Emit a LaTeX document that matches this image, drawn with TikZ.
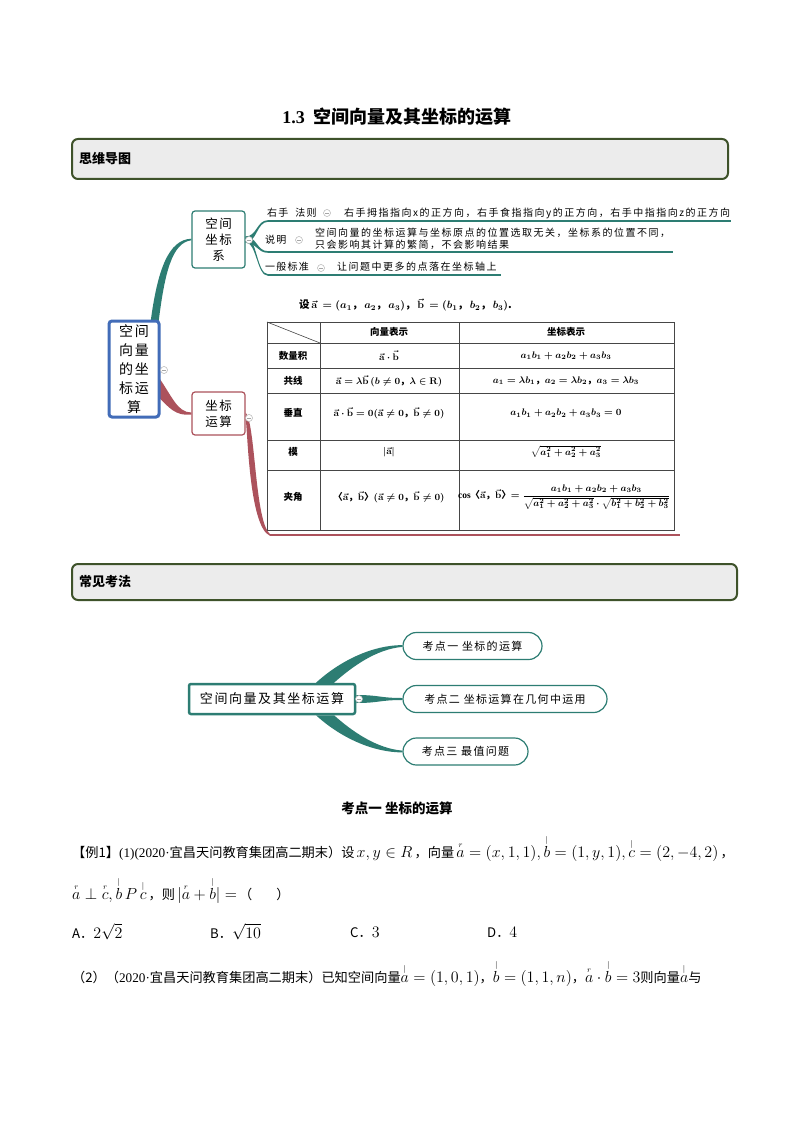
\RequirePackage{fix-cm}
\documentclass[tikz,border=0pt]{standalone}
\usepackage{amsmath,amssymb}
\usepackage{fontspec}
\setmainfont{Liberation Serif}
\newfontfamily\cjk{Noto Sans CJK SC}
\newfontfamily\cjkls{Noto Sans CJK SC}[LetterSpace=12]
\newfontfamily\cjkld{Noto Sans CJK SC}[LetterSpace=15]
\usetikzlibrary{calc}
\pgfdeclarelayer{paper}
\pgfdeclarelayer{bg}
\pgfsetlayers{paper,bg,main}
\definecolor{mmteal}{RGB}{45,125,115}
\definecolor{mmred}{RGB}{172,82,92}
\definecolor{mmblue}{RGB}{66,108,184}
\definecolor{hdborder}{RGB}{62,82,42}
\definecolor{hdfill}{RGB}{236,236,236}
\definecolor{tblline}{RGB}{70,70,70}
\newcommand\setfs[2]{\fontsize{#1}{#2}\selectfont}
\newcommand\mth[1]{{\fontsize{16}{16}\selectfont$#1$}}
\newcommand\taper[5]{%
  \fill[#1] let \p1=(#2), \p2=(#3), \n1={0.5*(\x2-\x1)} in
   (\x1,\y1+#4) .. controls (\x1+\n1,\y1+#4) and (\x2-\n1,\y2+#5) .. (\x2,\y2+#5)
   -- (\x2,\y2-#5) .. controls (\x2-\n1,\y2-#5) and (\x1+\n1,\y1-#4) .. (\x1,\y1-#4) -- cycle;}
\newcommand\accr[1]{\overset{\scriptscriptstyle r}{#1}}
\newcommand\acct[1]{\overset{\scriptscriptstyle |}{#1}}
\newcommand\va{\vec{\mathbf a}}
\newcommand\vb{\vec{\mathbf b}}
\begin{document}
\begin{tikzpicture}[x=1pt,y=-1pt,
  hdbox/.style={draw=hdborder, line width=2pt, fill=hdfill, rounded corners=6pt, anchor=north west, inner sep=0pt},
  hdtext/.style={anchor=west, inner sep=0pt, font=\cjk\bfseries\setfs{13}{15}},
  rootA/.style={draw=mmblue, line width=3pt, rounded corners=3pt, fill=white, minimum width=50pt, minimum height=96pt, align=center, inner sep=0pt, font=\cjkls\setfs{14}{19}},
  tealbox/.style={draw=mmteal, line width=1.2pt, rounded corners=3pt, fill=white, minimum width=53pt, minimum height=57pt, align=center, inner sep=0pt, font=\cjkls\setfs{12.5}{16}},
  redbox/.style={draw=mmred, line width=1.2pt, rounded corners=3pt, fill=white, minimum width=53pt, minimum height=43pt, align=center, inner sep=0pt, font=\cjkls\setfs{12.5}{16}},
  lbl/.style={anchor=west, inner sep=0pt, font=\cjkls\setfs{10}{12}},
  desc/.style={anchor=west, inner sep=0pt, align=left, font=\cjkld\setfs{10}{12}},
  colmark/.style={circle, draw=gray!60, fill=white, inner sep=0pt, minimum size=7pt, line width=0.5pt,
     path picture={\draw[gray!70,line width=0.6pt] ([xshift=-2pt]path picture bounding box.center) -- ([xshift=2pt]path picture bounding box.center);}},
  tbl/.style={draw=tblline, line width=0.8pt},
  tbt/.style={inner sep=0pt, font=\cjk\bfseries\boldmath\setfs{9.5}{11}},
  root2box/.style={draw=mmteal, line width=2.5pt, rounded corners=2pt, fill=white, minimum width=166pt, minimum height=30pt, inner sep=0pt, font=\cjkls\setfs{13}{15}},
  pill/.style={draw=mmteal, line width=1.2pt, rounded corners=13.5pt, fill=white, minimum height=27pt, inner sep=0pt, font=\cjkls\setfs{11}{13}},
  body/.style={anchor=west, inner sep=0pt, font=\setfs{13.2}{16}}
]
\useasboundingbox (0,0) rectangle (794,1123);
\begin{pgfonlayer}{paper}
  \fill[white] (0,0) rectangle (794,1123);
\end{pgfonlayer}

% title
\node[font=\setfs{18}{20}\bfseries] (title) at (397,117) {1.3\ \ {\cjk\bfseries 空间向量及其坐标的运算}};

% header 1
\node[hdbox, minimum width=656pt, minimum height=40pt] (hd1) at (71,138) {};
\node[hdtext] (hd1t) at ($(hd1.west)+(8,0)$) {思维导图};

% ---------- mind map 1 ----------
\node[rootA] (root1) at (134,369) {空间\\向量\\的坐\\标运\\算};
\node[tealbox] (n1) at (218.5,239.5) {空间\\坐标\\系};
\node[redbox] (n2) at (218.5,413.5) {坐标\\运算};

\node[lbl] (L1) at (267,213) {右手\hspace{7pt}法则};
\node[lbl] (L2) at (265,240) {说明};
\node[lbl] (L3) at (265,267) {一般标准};

\node[desc] (D1) at (344,213) {右手拇指指向x的正方向，右手食指指向y的正方向，右手中指指向z的正方向};
\node[desc] (D2) at (315,239) {空间向量的坐标运算与坐标原点的位置选取无关，坐标系的位置不同，\\只会影响其计算的繁简，不会影响结果};
\node[desc] (D3) at (337,267) {让问题中更多的点落在坐标轴上};

\coordinate (r1a) at (268,221); \coordinate (r1b) at (731,221);
\coordinate (r2a) at (268,252); \coordinate (r2b) at (673,252);
\coordinate (r3a) at (268,275); \coordinate (r3b) at (501,275);
\coordinate (rb1) at (270,535); \coordinate (rb2) at (680,535);

\begin{pgfonlayer}{bg}
  % root1 -> n1 (teal)
  \fill[mmteal] let \p1=(root1.north east), \p2=(n1.west) in
    (\x1-10,\y1-3) .. controls (\x1-3,\y1+50) and (\x1+8,\y2) .. (\x2,\y2+0.8)
    -- (\x2,\y2-0.8) .. controls (\x1+11,\y2-3) and (\x1+4,\y1+45) .. (\x1-2,\y1-3) -- cycle;
  % root1 -> n2 (red)
  \fill[mmred] let \p1=(root1.east), \p2=(n2.west) in
    (\x1-2,\y1-8) .. controls (\x1+12,\y1-28) and (\x2-14,\y2+1) .. (\x2,\y2+1)
    -- (\x2,\y2-1) .. controls (\x2-16,\y2-3) and (\x1+8,\y1-38) .. (\x1-2,\y1-28) -- cycle;
  % n2 -> bottom line (red)
  \fill[mmred] let \p1=(n2.east), \p2=(rb1) in
    (\x1,\y1+1) .. controls (\x1+10,\y1-10) and (\x1+9,\y2+14) .. (\x2,\y2+0.8)
    -- (\x2,\y2-0.8) .. controls (\x1+3,\y2+8) and (\x1+2,\y1-12) .. (\x1,\y1-6) -- cycle;
  \draw[mmred, line width=1.6pt] (rb1) -- (rb2);
  % n1 -> rows (teal)
  \taper{mmteal}{n1.east}{r1a}{3}{0.8}
  \taper{mmteal}{n1.east}{r2a}{3}{0.8}
  \taper{mmteal}{n1.east}{r3a}{3}{0.8}
  \draw[mmteal, line width=1.4pt] (r1a) -- (r1b);
  \draw[mmteal, line width=1.4pt] (r2a) -- (r2b);
  \draw[mmteal, line width=1.4pt] (r3a) -- (r3b);
\end{pgfonlayer}

\node[colmark] (m0) at (249,240) {};
\node[colmark] (m1) at (327,213) {};
\node[colmark] (m2) at (299,240) {};
\node[colmark] (m3) at (321,268) {};
\node[colmark] (mr) at (249,418) {};
\node[colmark] (mroot) at (164,370) {};

% table
\node[anchor=west, inner sep=0pt, font=\cjk\bfseries\boldmath\setfs{10.5}{12}] (cap) at (299,305)
  {设\,$\va\,=(a_1$，\,$a_2$，\,$a_3)$，\,$\vb\,=(b_1$，\,$b_2$，\,$b_3)$.};
\draw[tbl] (267,322) rectangle (674,530);
\foreach \yy in {343,368,393,440,470} \draw[tbl] (267,\yy) -- (674,\yy);
\draw[tbl] (320,322) -- (320,530);
\draw[tbl] (459,322) -- (459,530);
\draw[tbl, line width=0.6pt] (267,322) -- (320,343);

\node[tbt] (t02) at (389,331.5) {向量表示};
\node[tbt] (t03) at (566,331.5) {坐标表示};
\node[tbt] (t11) at (293,355.5) {数量积};
\node[tbt] (t12) at (389,355.5) {$\va\cdot\vb$};
\node[tbt] (t13) at (566,355.5) {$a_1b_1+a_2b_2+a_3b_3$};
\node[tbt] (t21) at (293,380.5) {共线};
\node[tbt] (t22) at (389,381) {$\va=\lambda\vb\,(b\neq0$，$\lambda\in\mathbf R)$};
\node[tbt] (t23) at (566,380.5) {$a_1=\lambda b_1$，$a_2=\lambda b_2$，$a_3=\lambda b_3$};
\node[tbt] (t31) at (293,413) {垂直};
\node[tbt] (t32) at (389,413) {$\va\cdot\vb=0(\va\neq0$，$\vb\neq0)$};
\node[tbt] (t33) at (566,413) {$a_1b_1+a_2b_2+a_3b_3=0$};
\node[tbt] (t41) at (293,452) {模};
\node[tbt] (t42) at (389,452) {$|\va|$};
\node[tbt] (t43) at (566,452) {$\sqrt{a_1^2+a_2^2+a_3^2}$};
\node[tbt] (t51) at (293,497) {夹角};
\node[tbt] (t52) at (389,497) {〈$\va$，$\vb$〉$(\va\neq0$，$\vb\neq0)$};
\node[tbt] (t53) at (564,497) {$\cos$〈$\va$，$\vb$〉$=\dfrac{a_1b_1+a_2b_2+a_3b_3}{\sqrt{a_1^2+a_2^2+a_3^2}\cdot\sqrt{b_1^2+b_2^2+b_3^2}}$};

% header 2
\node[hdbox, minimum width=665pt, minimum height=36pt] (hd2) at (71,563) {};
\node[hdtext] (hd2t) at ($(hd2.west)+(8,0)$) {常见考法};

% ---------- mind map 2 ----------
\node[root2box] (root2) at (272,699) {空间向量及其坐标运算};
\node[pill, minimum width=139pt] (k1) at (472.5,646) {考点一\ 坐标的运算};
\node[pill, minimum width=204pt] (k2) at (505,699) {考点二\ 坐标运算在几何中运用};
\node[pill, minimum width=125pt] (k3) at (465.5,751.5) {考点三\ 最值问题};
\begin{pgfonlayer}{bg}
  \fill[mmteal] let \p1=(root2.north), \p2=(k1.west) in
    (\x1+44,\y1) .. controls (\x1+68,\y1+22) and (\x2-30,\y2+0.9) .. (\x2,\y2+0.9)
    -- (\x2,\y2-0.9) .. controls (\x2-26,\y2-3) and (\x1+80,\y1+16) .. (\x1+62,\y1) -- cycle;
  \fill[mmteal] let \p1=(root2.south), \p2=(k3.west) in
    (\x1+44,\y1) .. controls (\x1+68,\y1-22) and (\x2-30,\y2-0.9) .. (\x2,\y2-0.9)
    -- (\x2,\y2+0.9) .. controls (\x2-26,\y2+3) and (\x1+80,\y1-16) .. (\x1+62,\y1) -- cycle;
  \taper{mmteal}{root2.east}{k2.west}{4}{1}
\end{pgfonlayer}
\node[colmark] (mroot2) at (359,699) {};

% ---------- text ----------
\node[font=\cjk\bfseries\setfs{13.5}{15}] (sec1) at (397,808) {考点一\ 坐标的运算};
\node[body] (l1) at (72,848) {{\cjk【例1】}(1)({\rmfamily 2020·}{\cjk 宜昌天问教育集团高二期末）设}\,\mth{x,y\in R}\,{\cjk，向量}\,\mth{\accr{a}=(x,1,1),\acct{b}=(1,y,1),\acct{c}=(2,-4,2)}\,{\cjk，}};
\node[body] (l2) at (72,890) {\mth{\accr{a}\perp\accr{c},\acct{b}\,P\,\acct{c}}\,{\cjk，则}\,\mth{|\accr{a}+\acct{b}|=}\,{\cjk（\hspace{24pt}）}};
\node[body] (oA) at (72,932) {{\cjk A．}\mth{2\sqrt{2}}};
\node[body] (oB) at (210,932) {{\cjk B．}\mth{\sqrt{10}}};
\node[body] (oC) at (350,932) {{\cjk C．}\mth{3}};
\node[body] (oD) at (487,932) {{\cjk D．}\mth{4}};
\node[body] (l4) at (72,973) {{\cjk（2）（}{\rmfamily 2020·}{\cjk 宜昌天问教育集团高二期末）已知空间向量}\mth{\acct{a}=\left(1,0,1\right)}{\cjk，}\mth{\acct{b}=\left(1,1,n\right)}{\cjk，}\mth{\accr{a}\cdot\acct{b}=3}{\cjk 则向量}\mth{\acct{a}}{\cjk 与}};
\end{tikzpicture}
\end{document}
